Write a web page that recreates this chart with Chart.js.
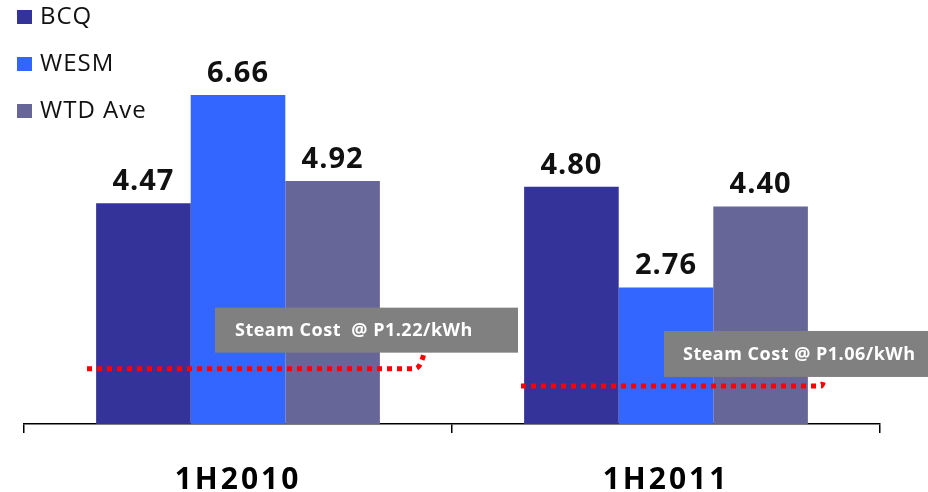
<!DOCTYPE html>
<html>
<head>
<meta charset="utf-8">
<script src="https://cdn.jsdelivr.net/npm/chart.js@4/dist/chart.umd.min.js"></script>
<style>
  html, body { margin: 0; padding: 0; background: #fff; }
  #wrap { width: 928px; height: 492px; }
</style>
</head>
<body>
<div id="wrap"><canvas id="barChart"></canvas></div>
<script>
// data
var periods = ['1H2010', '1H2011'];
var seriesNames = ['BCQ', 'WESM', 'WTD Ave'];
var bcq = [4.47, 4.80];
var wesm = [6.66, 2.76];
var wtdAve = [4.92, 4.40];
var steamCost = [1.22, 1.06];          // P/kWh, shown in callouts
var steamLine = [1.12, 0.77];          // where the dotted line sits on the value axis
var steamText = ['Steam Cost  @ P1.22/kWh', 'Steam Cost @ P1.06/kWh'];

var colors = ['#333399', '#3366FF', '#666699'];
var FONT = '"Open Sans", "DejaVu Sans", sans-serif';

// wider letter spacing for the category labels
var spacing = {
    id: 'spacing',
    beforeDraw: function(chart) { chart.ctx.letterSpacing = '3px'; },
    afterDraw: function(chart) { chart.ctx.letterSpacing = '0px'; }
};

// labels above bars + custom legend + steam cost lines/callouts
var extras = {
    id: 'extras',
    afterDatasetsDraw: function(chart) {
        var c = chart.ctx;
        var xs = chart.scales.x, ys = chart.scales.y;
        c.save();

        // steam cost dotted lines
        var lineSpan = [[-151, 177], [-145, 155]];
        var hook = [[10, -20], [3, -8]];
        var boxes = [[-23, -61, 303, 45], [-2, -55, 270, 46]];
        var textX = [20, 19];
        for (var i = 0; i < periods.length; i++) {
            var cx = xs.getPixelForValue(i);
            var y = ys.getPixelForValue(steamLine[i]);
            var x0 = cx + lineSpan[i][0], x1 = cx + lineSpan[i][1];
            c.strokeStyle = '#FF0000';
            c.lineWidth = 5;
            c.setLineDash([5, 5]);
            c.beginPath();
            c.moveTo(x0, y);
            c.lineTo(x1, y);
            c.quadraticCurveTo(x1 + hook[i][0] * 0.6, y, x1 + hook[i][0], y + hook[i][1]);
            c.stroke();
            c.setLineDash([]);

            // callout box
            var bx = cx + boxes[i][0], by = y + boxes[i][1];
            c.fillStyle = '#808080';
            c.fillRect(bx, by, boxes[i][2], boxes[i][3]);
            c.fillStyle = '#FFFFFF';
            c.font = 'bold 18px ' + FONT;
            c.letterSpacing = '0.5px';
            c.textAlign = 'left';
            c.textBaseline = 'middle';
            c.fillText(steamText[i], bx + textX[i], by + boxes[i][3] / 2 + 1);
        }

        // value labels
        c.fillStyle = '#111111';
        c.font = 'bold 29px ' + FONT;
        c.letterSpacing = '1px';
        c.textAlign = 'center';
        c.textBaseline = 'bottom';
        chart.data.datasets.forEach(function(ds, di) {
            var meta = chart.getDatasetMeta(di);
            meta.data.forEach(function(bar, j) {
                c.fillText(ds.data[j].toFixed(2), bar.x, bar.y - 7);
            });
        });

        // legend
        c.font = '24px ' + FONT;
        c.letterSpacing = '1px';
        c.textAlign = 'left';
        c.textBaseline = 'middle';
        seriesNames.forEach(function(name, k) {
            var ly = 17 + k * 47;
            c.fillStyle = colors[k];
            c.fillRect(17, ly - 7, 15, 14);
            c.fillStyle = '#111111';
            c.fillText(name, 40, ly);
        });
        c.restore();
    }
};

var ctx = document.getElementById('barChart').getContext('2d');
var myChart = new Chart(ctx, {
    type: 'bar',
    data: {
        labels: periods,
        datasets: [
            { label: seriesNames[0], data: bcq, backgroundColor: colors[0] },
            { label: seriesNames[1], data: wesm, backgroundColor: colors[1] },
            { label: seriesNames[2], data: wtdAve, backgroundColor: colors[2] }
        ]
    },
    options: {
        responsive: true,
        maintainAspectRatio: false,
        animation: false,
        layout: { padding: { left: 24, right: 48, top: 4, bottom: 0 } },
        datasets: { bar: { categoryPercentage: 0.663, barPercentage: 1.0, borderWidth: 0 } },
        plugins: { legend: { display: false }, tooltip: { enabled: false } },
        scales: {
            x: {
                afterFit: function(scale) { scale.height = 68; },
                grid: { offset: true, drawOnChartArea: false, drawTicks: true, tickLength: 9, color: '#000', lineWidth: 1.5 },
                border: { display: true, color: '#000', width: 1.5 },
                ticks: { color: '#000', font: { family: FONT, size: 30, weight: 'bold' }, padding: 29 }
            },
            y: {
                display: false,
                min: 0,
                max: 8.5
            }
        }
    },
    plugins: [spacing, extras]
});
</script>
</body>
</html>
